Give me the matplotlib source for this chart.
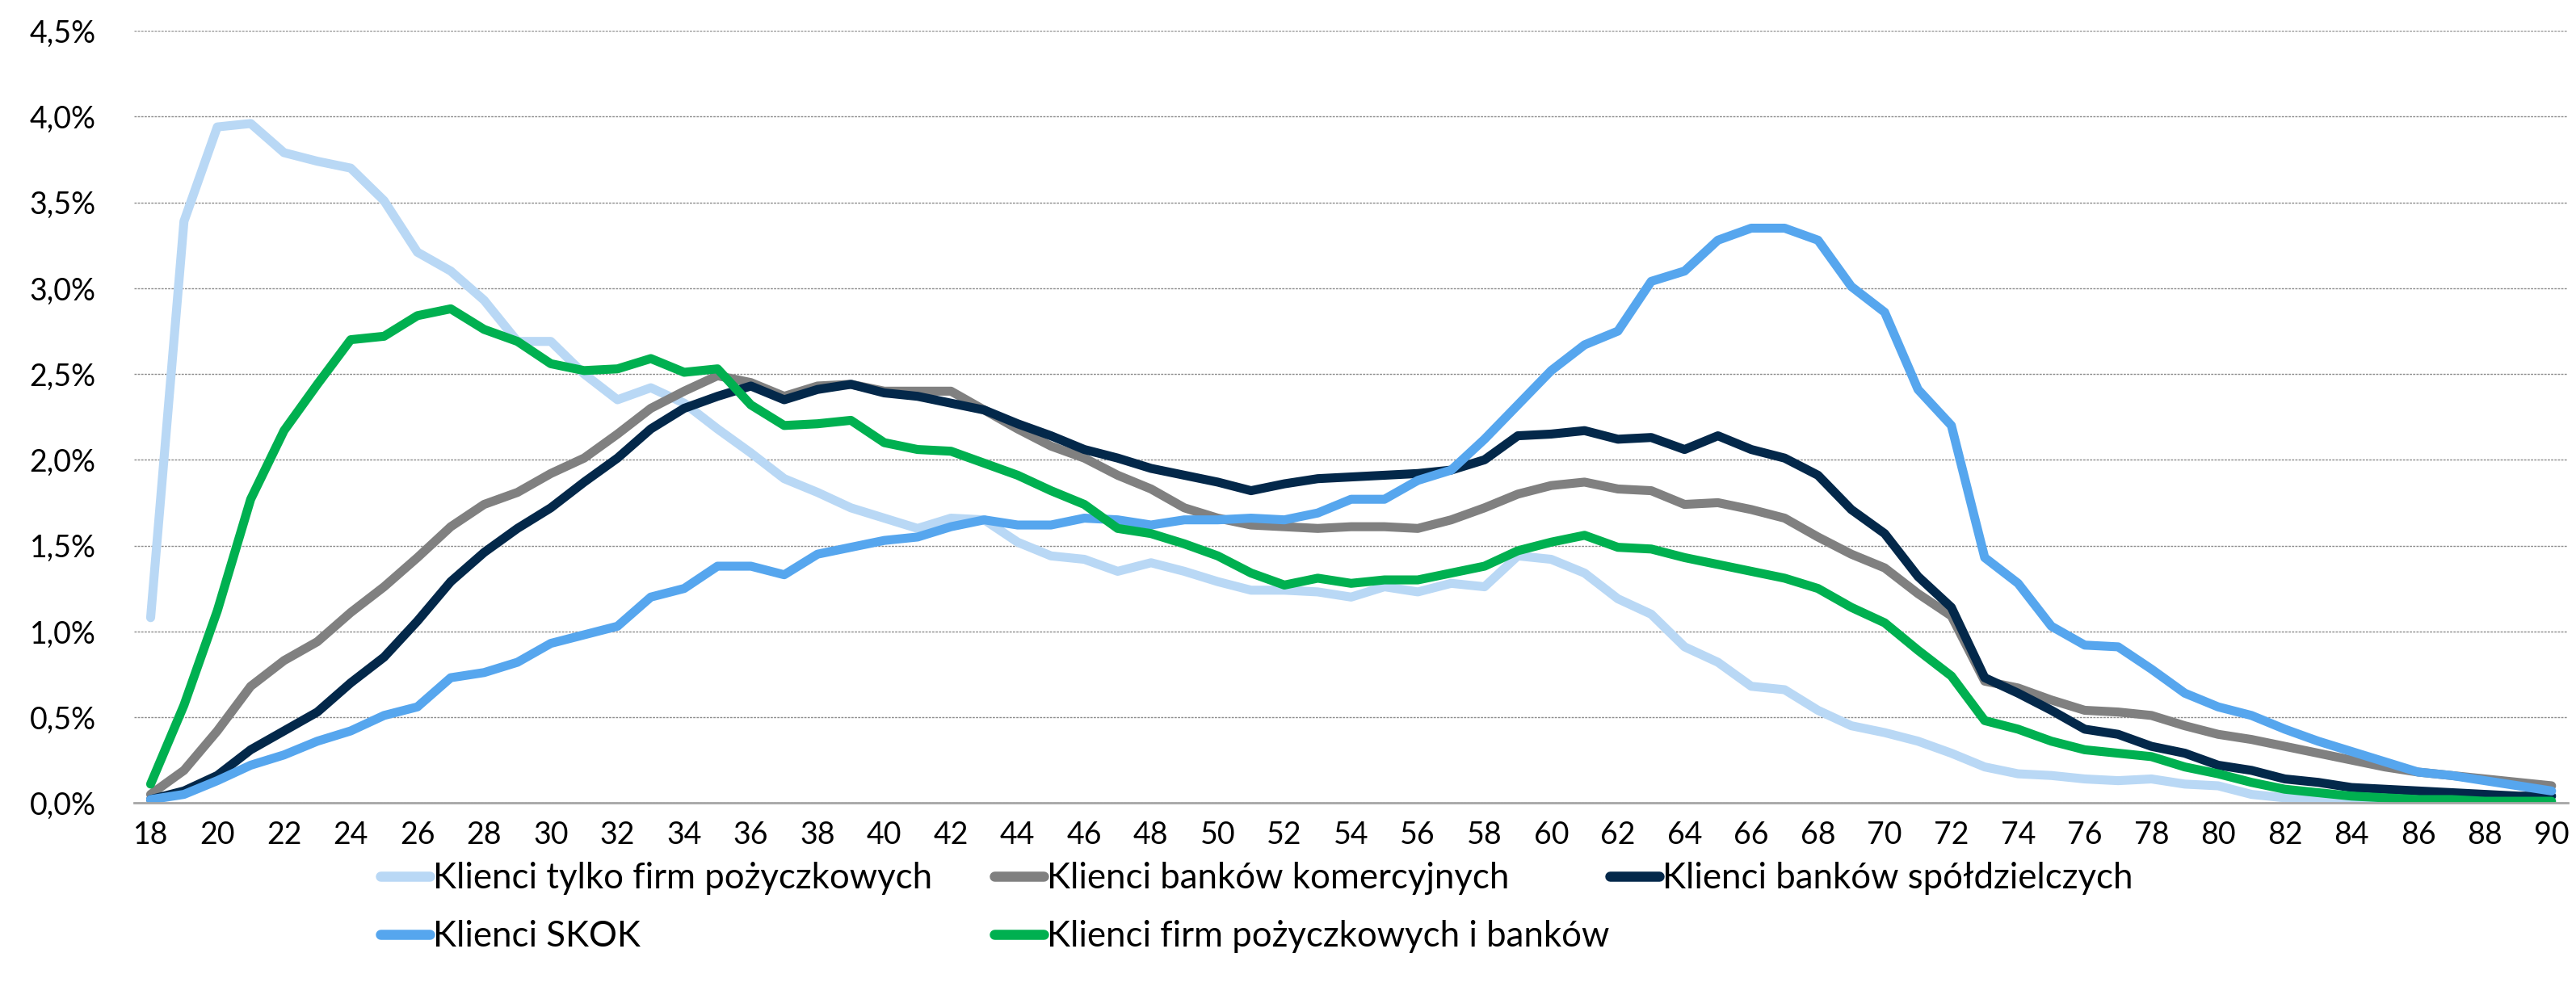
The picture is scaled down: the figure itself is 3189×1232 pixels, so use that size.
import matplotlib
matplotlib.use("Agg")
import matplotlib.pyplot as plt
from matplotlib.ticker import FuncFormatter

ages = list(range(18, 91))

tylko_firm = [1.08, 3.39, 3.94, 3.96, 3.79, 3.74, 3.70, 3.51, 3.21, 3.10, 2.93, 2.69, 2.69, 2.50, 2.35,
              2.42, 2.33, 2.18, 2.04, 1.89, 1.81, 1.72, 1.66, 1.60, 1.66, 1.65, 1.52, 1.44, 1.42, 1.35,
              1.40, 1.35, 1.29, 1.24, 1.24, 1.23, 1.20, 1.26, 1.23, 1.28, 1.26, 1.44, 1.42, 1.34, 1.19,
              1.10, 0.91, 0.82, 0.68, 0.66, 0.54, 0.45, 0.41, 0.36, 0.29, 0.21, 0.17, 0.16, 0.14, 0.13,
              0.14, 0.11, 0.10, 0.05, 0.03, 0.02, 0.01, 0.01, 0.01, 0.00, 0.00, 0.00, 0.00]

komercyjne = [0.05, 0.19, 0.42, 0.68, 0.83, 0.94, 1.11, 1.26, 1.43, 1.61, 1.74, 1.81, 1.92, 2.01, 2.15,
              2.30, 2.40, 2.49, 2.45, 2.37, 2.43, 2.44, 2.40, 2.40, 2.40, 2.29, 2.18, 2.08, 2.01, 1.91,
              1.83, 1.72, 1.66, 1.62, 1.61, 1.60, 1.61, 1.61, 1.60, 1.65, 1.72, 1.80, 1.85, 1.87, 1.83,
              1.82, 1.74, 1.75, 1.71, 1.66, 1.55, 1.45, 1.37, 1.22, 1.09, 0.71, 0.67, 0.60, 0.54, 0.53,
              0.51, 0.45, 0.40, 0.37, 0.33, 0.29, 0.25, 0.21, 0.18, 0.16, 0.14, 0.12, 0.10]

spoldzielcze = [0.02, 0.07, 0.16, 0.31, 0.42, 0.53, 0.70, 0.85, 1.06, 1.29, 1.46, 1.60, 1.72, 1.87, 2.01,
                2.18, 2.30, 2.37, 2.43, 2.35, 2.41, 2.44, 2.39, 2.37, 2.33, 2.29, 2.21, 2.14, 2.06, 2.01,
                1.95, 1.91, 1.87, 1.82, 1.86, 1.89, 1.90, 1.91, 1.92, 1.94, 2.00, 2.14, 2.15, 2.17, 2.12,
                2.13, 2.06, 2.14, 2.06, 2.01, 1.91, 1.71, 1.57, 1.32, 1.14, 0.73, 0.64, 0.54, 0.43, 0.40,
                0.33, 0.29, 0.22, 0.19, 0.14, 0.12, 0.09, 0.08, 0.07, 0.06, 0.05, 0.04, 0.04]

skok = [0.02, 0.05, 0.13, 0.22, 0.28, 0.36, 0.42, 0.51, 0.56, 0.73, 0.76, 0.82, 0.93, 0.98, 1.03,
        1.20, 1.25, 1.38, 1.38, 1.33, 1.45, 1.49, 1.53, 1.55, 1.61, 1.65, 1.62, 1.62, 1.66, 1.65,
        1.62, 1.65, 1.65, 1.66, 1.65, 1.69, 1.77, 1.77, 1.88, 1.94, 2.12, 2.32, 2.52, 2.67, 2.75,
        3.04, 3.10, 3.28, 3.35, 3.35, 3.28, 3.01, 2.86, 2.41, 2.20, 1.43, 1.28, 1.03, 0.92, 0.91,
        0.78, 0.64, 0.56, 0.51, 0.43, 0.36, 0.30, 0.24, 0.18, 0.16, 0.13, 0.10, 0.07]

firm_i_bankow = [0.11, 0.57, 1.12, 1.77, 2.17, 2.44, 2.70, 2.72, 2.84, 2.88, 2.76, 2.69, 2.56, 2.52, 2.53,
                 2.59, 2.51, 2.53, 2.32, 2.20, 2.21, 2.23, 2.10, 2.06, 2.05, 1.98, 1.91, 1.82, 1.74, 1.60,
                 1.57, 1.51, 1.44, 1.34, 1.27, 1.31, 1.28, 1.30, 1.30, 1.34, 1.38, 1.47, 1.52, 1.56, 1.49,
                 1.48, 1.43, 1.39, 1.35, 1.31, 1.25, 1.14, 1.05, 0.89, 0.74, 0.48, 0.43, 0.36, 0.31, 0.29,
                 0.27, 0.21, 0.17, 0.12, 0.08, 0.06, 0.04, 0.03, 0.02, 0.02, 0.01, 0.01, 0.01]

labels = ["Klienci tylko firm pożyczkowych", "Klienci banków komercyjnych",
          "Klienci banków spółdzielczych", "Klienci SKOK",
          "Klienci firm pożyczkowych i banków"]
series = [tylko_firm, komercyjne, spoldzielcze, skok, firm_i_bankow]
colors = ["#B9D8F5", "#808080", "#03284A", "#56A6EE", "#00B050"]

x_ticks = list(range(18, 91, 2))
y_ticks = [0.0, 0.5, 1.0, 1.5, 2.0, 2.5, 3.0, 3.5, 4.0, 4.5]

plt.rcParams["font.family"] = ["Lato", "DejaVu Sans"]

fig = plt.figure(figsize=(31.89, 12.32), dpi=100)
ax = fig.add_axes([0.052, 0.193, 0.945, 0.776])

lines = []
for vals, col, lab in zip(series, colors, labels):
    ln, = ax.plot(ages, vals, color=col, lw=8, label=lab,
                  solid_capstyle="round", solid_joinstyle="round")
    lines.append(ln)

ax.set_xlim(17.5, 90.5)
ax.set_ylim(0, 4.5)
ax.set_xticks(x_ticks)
ax.set_yticks(y_ticks)
ax.yaxis.set_major_formatter(FuncFormatter(lambda v, p: f"{v:.1f}%".replace(".", ",")))
ax.tick_params(axis="both", length=0, labelsize=27, colors="black")
ax.tick_params(axis="y", pad=34)
ax.tick_params(axis="x", pad=16)

ax.grid(axis="y", color="#8c8c8c", lw=1.0, ls=(0, (2, 1)))
ax.set_axisbelow(True)
for s in ["top", "right", "left"]:
    ax.spines[s].set_visible(False)
ax.spines["bottom"].set_color("#a6a6a6")
ax.spines["bottom"].set_linewidth(2)

# legend: three columns, row-major order as in the reference
groups = [([lines[0], lines[3]], 471), ([lines[1], lines[4]], 1231), ([lines[2]], 1993)]
W, H = 3189, 1232
for hs, xpx in groups:
    leg = fig.legend(handles=hs, labels=[h.get_label() for h in hs],
                     loc="upper left", bbox_to_anchor=(xpx / W, 1 - 1067 / H),
                     frameon=False, fontsize=31.5, handlelength=1.4, handletextpad=0.08,
                     labelspacing=0.72, borderpad=0, borderaxespad=0)
    for lh in leg.get_lines():
        lh.set_linewidth(9)

fig.savefig("out.png", dpi=100)
